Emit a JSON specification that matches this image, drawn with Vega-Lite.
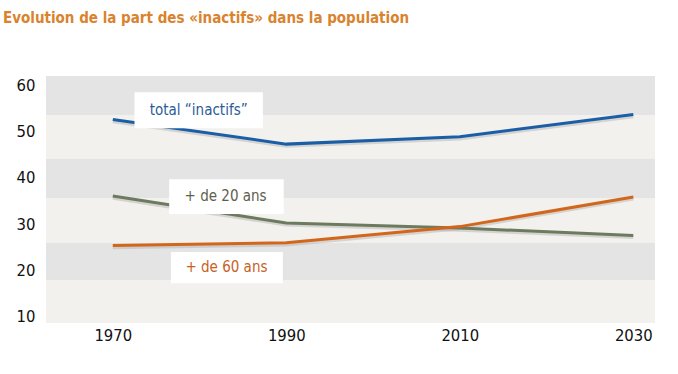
{
  "$schema": "https://vega.github.io/schema/vega-lite/v6.json",
  "autosize": "none",
  "width": 609,
  "height": 247,
  "padding": {"left": 46, "top": 76, "right": 23, "bottom": 51},
  "background": "white",
  "config": {"view": {"stroke": null}},
  "title": {
    "text": "Evolution de la part des «inactifs» dans la population",
    "anchor": "start",
    "frame": "group",
    "dx": -43,
    "offset": 50,
    "font": "DejaVu Sans Condensed",
    "fontSize": 15,
    "fontWeight": "bold",
    "color": "#d9832e"
  },
  "datasets": {
    "bands": [
      {"lo": 53.5, "hi": 62, "x0": 1962.3, "x1": 2032.5, "shade": "dark"},
      {"lo": 44.1, "hi": 53.5, "x0": 1962.3, "x1": 2032.5, "shade": "light"},
      {"lo": 35.7, "hi": 44.1, "x0": 1962.3, "x1": 2032.5, "shade": "dark"},
      {"lo": 26, "hi": 35.7, "x0": 1962.3, "x1": 2032.5, "shade": "light"},
      {"lo": 18, "hi": 26, "x0": 1962.3, "x1": 2032.5, "shade": "dark"},
      {"lo": 8.7, "hi": 18, "x0": 1962.3, "x1": 2032.5, "shade": "light"}
    ],
    "series": [
      {"year": 1970, "value": 52.6, "series": "total"},
      {"year": 1990, "value": 47.3, "series": "total"},
      {"year": 2010, "value": 48.9, "series": "total"},
      {"year": 2030, "value": 53.7, "series": "total"},
      {"year": 1970, "value": 36.1, "series": "20"},
      {"year": 1990, "value": 30.3, "series": "20"},
      {"year": 2010, "value": 29.2, "series": "20"},
      {"year": 2030, "value": 27.6, "series": "20"},
      {"year": 1970, "value": 25.4, "series": "60"},
      {"year": 1990, "value": 26.0, "series": "60"},
      {"year": 2010, "value": 29.5, "series": "60"},
      {"year": 2030, "value": 35.9, "series": "60"}
    ],
    "labels": [
      {"text": "total “inactifs”", "series": "total", "tx": 1979.9, "ty": 54.6, "bx0": 1972.5, "bx1": 1987.3, "by0": 50.7, "by1": 58.5},
      {"text": "+ de 20 ans", "series": "20", "tx": 1983.0, "ty": 36.0, "bx0": 1976.5, "bx1": 1989.7, "by0": 32.2, "by1": 39.7},
      {"text": "+ de 60 ans", "series": "60", "tx": 1983.1, "ty": 20.7, "bx0": 1976.7, "bx1": 1989.6, "by0": 17.3, "by1": 24.0}
    ]
  },
  "resolve": {"scale": {"color": "independent", "fill": "independent", "stroke": "independent"}},
  "layer": [
    {
      "data": {"name": "bands"},
      "mark": {"type": "rect"},
      "encoding": {
        "x": {"field": "x0", "type": "quantitative", "scale": {"domain": [1962.3, 2032.5], "nice": false, "zero": false}, "axis": {"values": [1970, 1990, 2010, 2030], "format": "d", "title": null, "grid": false, "domain": false, "ticks": false, "labelFont": "DejaVu Sans Condensed", "labelFontSize": 16.5, "labelColor": "#111111", "labelPadding": 4}},
        "x2": {"field": "x1"},
        "y": {"field": "lo", "type": "quantitative", "scale": {"domain": [8.7, 62], "nice": false, "zero": false}, "axis": {"values": [10, 20, 30, 40, 50, 60], "title": null, "grid": false, "domain": false, "ticks": false, "labelFont": "DejaVu Sans Condensed", "labelFontSize": 16.5, "labelColor": "#111111", "labelPadding": 11}},
        "y2": {"field": "hi"},
        "fill": {"field": "shade", "type": "nominal", "scale": {"domain": ["dark", "light"], "range": ["#e4e4e4", "#f3f1ed"]}, "legend": null}
      }
    },
    {
      "data": {"name": "series"},
      "mark": {"type": "line", "strokeWidth": 3.2, "color": "#b0b0b0", "opacity": 0.45, "strokeCap": "butt"},
      "transform": [{"calculate": "datum.value - 0.45", "as": "shadow"}],
      "encoding": {
        "x": {"field": "year", "type": "quantitative"},
        "y": {"field": "shadow", "type": "quantitative"},
        "detail": {"field": "series"}
      }
    },
    {
      "data": {"name": "series"},
      "mark": {"type": "line", "strokeWidth": 3, "strokeCap": "butt"},
      "encoding": {
        "x": {"field": "year", "type": "quantitative"},
        "y": {"field": "value", "type": "quantitative"},
        "stroke": {"field": "series", "type": "nominal", "scale": {"domain": ["total", "20", "60"], "range": ["#1a5fa6", "#6c7a5d", "#d2671c"]}, "legend": null}
      }
    },
    {
      "data": {"name": "labels"},
      "mark": {"type": "rect", "fill": "white"},
      "encoding": {
        "x": {"field": "bx0", "type": "quantitative"},
        "x2": {"field": "bx1"},
        "y": {"field": "by0", "type": "quantitative"},
        "y2": {"field": "by1"}
      }
    },
    {
      "data": {"name": "labels"},
      "mark": {"type": "text", "font": "DejaVu Sans Condensed", "fontSize": 15, "baseline": "middle", "align": "center"},
      "encoding": {
        "x": {"field": "tx", "type": "quantitative"},
        "y": {"field": "ty", "type": "quantitative"},
        "text": {"field": "text"},
        "color": {"field": "series", "type": "nominal", "scale": {"domain": ["total", "20", "60"], "range": ["#2a5c96", "#5e5e4c", "#c8611f"]}, "legend": null}
      }
    }
  ]
}
